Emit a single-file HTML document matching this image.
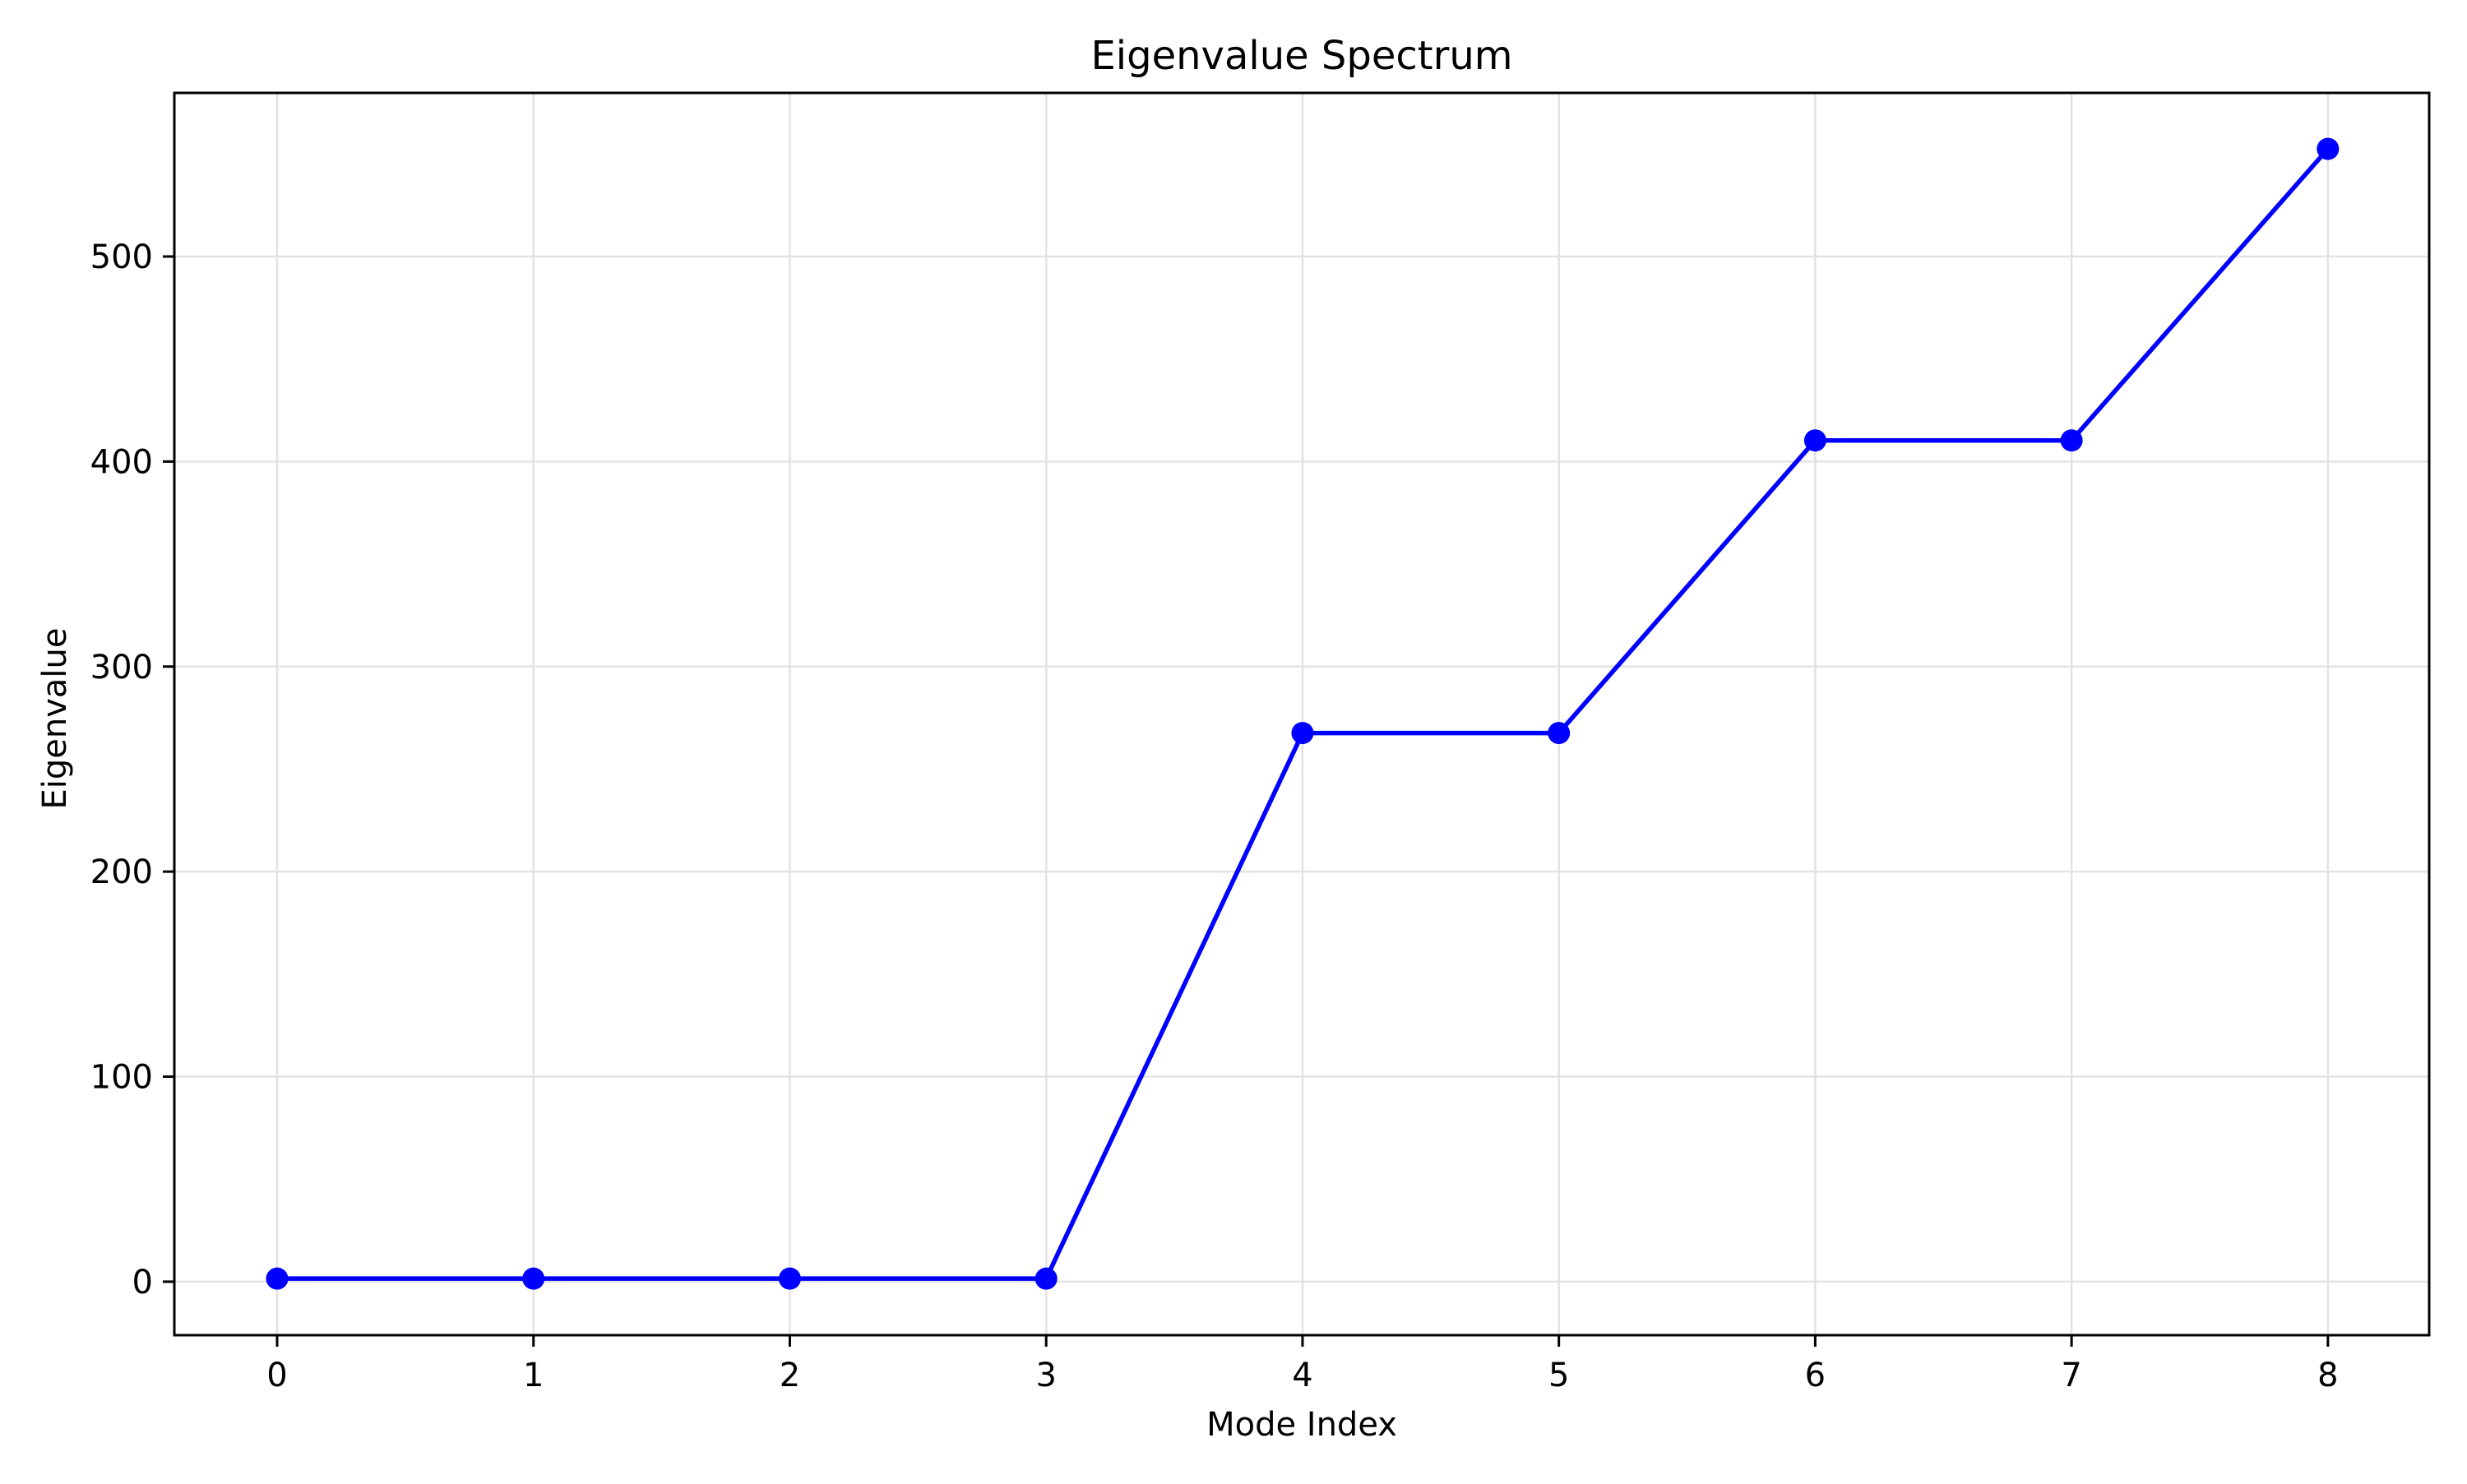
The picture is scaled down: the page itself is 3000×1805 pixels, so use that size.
<!DOCTYPE html>
<html><head><meta charset="utf-8"><style>
html,body{margin:0;padding:0;background:#fff;}
svg text{font-family:"DejaVu Sans","Liberation Sans",sans-serif;fill:#000;}
</style></head><body>
<svg id="chart" width="3000" height="1800" viewBox="0 0 3000 1800" xmlns="http://www.w3.org/2000/svg">
<rect width="3000" height="1800" fill="#fff"/>
<g id="grid"></g>
<g id="series"></g>
<rect x="212" y="113" width="2742" height="1511" fill="none" stroke="#000" stroke-width="3"/>
<g id="ticks"></g>
<text x="1583" y="84" font-size="48" text-anchor="middle">Eigenvalue Spectrum</text>
<text x="1583" y="1746" font-size="40" text-anchor="middle">Mode Index</text>
<text x="0" y="0" font-size="40" text-anchor="middle" transform="translate(80,874) rotate(-90)">Eigenvalue</text>
</svg>
<script>
const modes = [0,1,2,3,4,5,6,7,8];
const eigenvalues = [1.5,1.5,1.5,1.5,267.6,267.6,410.3,410.3,552.5];
const xTicks = [0,1,2,3,4,5,6,7,8];
const yTicks = [0,100,200,300,400,500];
const L=212,R=2954,T=113,B=1624;
const xMin=-0.401,xMax=8.395,yMin=-26.1,yMax=579.8;
const sx=v=>L+(v-xMin)/(xMax-xMin)*(R-L);
const sy=v=>B-(v-yMin)/(yMax-yMin)*(B-T);
const NS='http://www.w3.org/2000/svg';
function mk(tag,attrs,parent){const e=document.createElementNS(NS,tag);for(const k in attrs)e.setAttribute(k,attrs[k]);parent.appendChild(e);return e;}
const grid=document.getElementById('grid'),ticks=document.getElementById('ticks'),series=document.getElementById('series');
xTicks.forEach(t=>{
  const x=sx(t);
  const g=mk('line',{x1:x,x2:x,y1:T,y2:B,stroke:'#e3e3e3','stroke-width':2.5},grid);
  
  
  const tk=mk('line',{x1:x,x2:x,y1:B,y2:B+14,stroke:'#000','stroke-width':3},ticks);
  
  
  const tx=mk('text',{x:x,y:B+62,'font-size':40,'text-anchor':'middle'},ticks);
  tx.textContent=t;
  
  
});
yTicks.forEach(t=>{
  const y=sy(t);
  const g=mk('line',{x1:L,x2:R,y1:y,y2:y,stroke:'#e3e3e3','stroke-width':2.5},grid);
  
  
  const tk=mk('line',{x1:L-14,x2:L,y1:y,y2:y,stroke:'#000','stroke-width':3},ticks);
  
  
  const tx=mk('text',{x:L-26,y:y+14,'font-size':40,'text-anchor':'end'},ticks);
  tx.textContent=t;
  
  
});
const pts=modes.map((m,i)=>sx(m)+','+sy(eigenvalues[i])).join(' ');
const line=mk('polyline',{points:pts,fill:'none',stroke:'#0000ff','stroke-width':5.5,'stroke-linejoin':'round'},series);


modes.forEach((m,i)=>{
  const c=mk('circle',{cx:sx(m),cy:sy(eigenvalues[i]),r:13.5,fill:'#0000ff'},series);
  
  
});
</script>
</body></html>
